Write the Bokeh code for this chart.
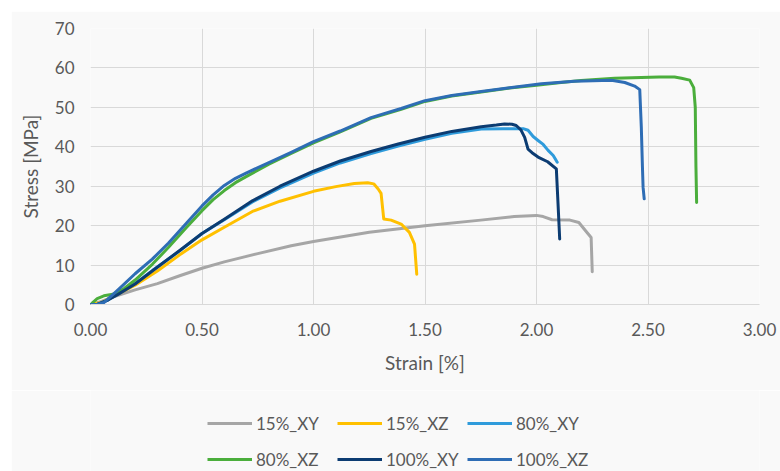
from bokeh.plotting import figure
from bokeh.models import Range1d, FixedTicker, NumeralTickFormatter, Legend, LegendItem
from bokeh.layouts import column
from bokeh.embed import file_html
from bokeh.resources import INLINE

series_names = ["15%_XY", "15%_XZ", "80%_XY", "80%_XZ", "100%_XY", "100%_XZ"]

x_15_xy = [0, 0.05, 0.1, 0.2, 0.3, 0.4, 0.5, 0.6, 0.75, 0.9, 1.0, 1.25, 1.5, 1.75, 1.9, 2.0,
           2.03, 2.07, 2.15, 2.19, 2.22, 2.245, 2.25]
y_15_xy = [0, 0.8, 1.9, 3.7, 5.3, 7.3, 9.2, 10.8, 12.9, 14.9, 16.0, 18.3, 20.0, 21.4, 22.3, 22.6,
           22.3, 21.5, 21.4, 20.8, 18.7, 17.0, 8.3]

x_15_xz = [0, 0.05, 0.1, 0.2, 0.3, 0.4, 0.5, 0.6, 0.726, 0.85, 1.0, 1.1, 1.183, 1.243, 1.27,
           1.29, 1.303, 1.315, 1.348, 1.393, 1.43, 1.453, 1.463]
y_15_xz = [0, 0.5, 2.0, 4.9, 8.5, 12.6, 16.4, 19.6, 23.6, 26.2, 28.7, 29.9, 30.7, 30.9, 30.6,
           29.3, 28.2, 21.7, 21.4, 20.4, 18.3, 15.3, 7.7]

x_80_xy = [0, 0.03, 0.08, 0.127, 0.2, 0.277, 0.4, 0.5, 0.6, 0.726, 0.85, 1.0, 1.12, 1.258, 1.38,
           1.5, 1.62, 1.752, 1.85, 1.94, 1.962, 1.985, 2.007, 2.03, 2.052, 2.075, 2.093]
y_80_xy = [0, 0, 1.2, 2.8, 5.3, 8.6, 13.6, 18.0, 21.5, 26.0, 29.6, 33.3, 35.9, 38.3, 40.2,
           41.9, 43.4, 44.5, 44.6, 44.6, 44.2, 42.6, 41.6, 40.6, 39.1, 37.8, 36.1]

x_80_xz = [0, 0.03, 0.06, 0.1, 0.15, 0.2, 0.277, 0.35, 0.43, 0.5, 0.55, 0.6, 0.65, 0.7, 0.8, 0.9,
           1.0, 1.12, 1.258, 1.393, 1.5, 1.62, 1.752, 1.88, 2.0, 2.11, 2.2, 2.35, 2.47, 2.55,
           2.619, 2.65, 2.687, 2.705, 2.712, 2.715, 2.718]
y_80_xz = [0, 1.5, 2.2, 2.6, 4.0, 6.2, 10.2, 14.5, 19.5, 23.8, 26.6, 28.9, 30.9, 32.5, 35.6,
           38.3, 41.0, 43.8, 47.2, 49.5, 51.5, 52.9, 53.9, 54.9, 55.6, 56.3, 56.8, 57.4, 57.6,
           57.7, 57.7, 57.4, 56.9, 55.0, 50.0, 35.0, 25.9]

x_100_xy = [0, 0.03, 0.08, 0.127, 0.2, 0.277, 0.4, 0.5, 0.6, 0.726, 0.85, 1.0, 1.12, 1.258, 1.38,
            1.5, 1.62, 1.752, 1.82, 1.857, 1.89, 1.909, 1.93, 1.947, 1.962, 1.98, 2.007, 2.05,
            2.089, 2.097, 2.104]
y_100_xy = [0, 0, 1.2, 2.7, 5.2, 8.5, 13.7, 18.0, 21.6, 26.3, 30.0, 33.8, 36.4, 38.8, 40.7,
            42.4, 43.9, 45.1, 45.5, 45.8, 45.7, 45.4, 44.3, 42.4, 39.4, 38.5, 37.4, 36.2,
            34.4, 25.0, 16.6]

x_100_xz = [0, 0.03, 0.06, 0.1, 0.127, 0.2, 0.277, 0.35, 0.43, 0.5, 0.55, 0.6, 0.65, 0.7, 0.8,
            0.9, 1.0, 1.12, 1.258, 1.393, 1.5, 1.62, 1.752, 1.88, 2.022, 2.17, 2.336, 2.396,
            2.44, 2.463, 2.47, 2.475, 2.478, 2.483]
y_100_xz = [0, 0, 0.5, 2.5, 3.9, 7.8, 11.5, 15.6, 20.6, 25.0, 27.8, 30.2, 32.0, 33.4, 36.0,
            38.6, 41.3, 44.0, 47.4, 49.7, 51.7, 53.0, 54.0, 55.0, 56.0, 56.6, 56.9, 56.3,
            55.4, 54.5, 45.0, 35.0, 29.7, 26.8]

x_ticks = [0, 0.5, 1.0, 1.5, 2.0, 2.5, 3.0]
y_ticks = [0, 10, 20, 30, 40, 50, 60, 70]

xs = [x_15_xy, x_15_xz, x_80_xy, x_80_xz, x_100_xy, x_100_xz]
ys = [y_15_xy, y_15_xz, y_80_xy, y_80_xz, y_100_xy, y_100_xz]
colors = ["#A6A6A6", "#FFC000", "#2F9BDB", "#4BAE3C", "#0C3C72", "#2E6DB5"]

BG = "#F9F9F9"
TXT = "#595959"
FONT = "Lato"

# main chart: placed at (11, 11) on the page, plot area at (90, 28)-(759, 304)
p = figure(width=769, height=379, output_backend="svg", toolbar_location=None,
           x_range=Range1d(0, 3), y_range=Range1d(0, 70),
           min_border_left=79, min_border_right=21, min_border_top=17, min_border_bottom=86)
p.margin = (11, 0, 0, 11)
p.background_fill_color = BG
p.border_fill_color = BG
p.outline_line_color = None

for xv, yv, c in zip(xs, ys, colors):
    p.line(xv, yv, line_color=c, line_width=3, line_join="round", line_cap="round")

p.xaxis.ticker = FixedTicker(ticks=x_ticks)
p.yaxis.ticker = FixedTicker(ticks=y_ticks)
p.xaxis.formatter = NumeralTickFormatter(format="0.00")
p.yaxis.formatter = NumeralTickFormatter(format="0")

for ax in (p.xaxis[0], p.yaxis[0]):
    ax.major_tick_out = 0
    ax.major_tick_in = 0
    ax.minor_tick_out = 0
    ax.minor_tick_in = 0
    ax.major_label_text_font = FONT
    ax.major_label_text_font_size = "17px"
    ax.major_label_text_color = TXT
    ax.axis_label_text_font = FONT
    ax.axis_label_text_font_size = "19px"
    ax.axis_label_text_font_style = "normal"
    ax.axis_label_text_color = TXT

p.xaxis.axis_label = "Strain [%]"
p.yaxis.axis_label = "Stress [MPa]"
p.xaxis.axis_line_color = "#D9D9D9"
p.yaxis.axis_line_color = None
p.xaxis.major_label_standoff = 18
p.yaxis.major_label_standoff = 16
p.xaxis.axis_label_standoff = 12
p.yaxis.axis_label_standoff = 10

p.xgrid.grid_line_color = "#D9D9D9"
p.ygrid.grid_line_color = "#D9D9D9"
p.xgrid.grid_line_width = 1
p.ygrid.grid_line_width = 1

# legend strip below the chart (its frame is aligned with the chart's plot area)
q = figure(width=769, height=81, output_backend="svg", toolbar_location=None,
           x_axis_type=None, y_axis_type=None,
           x_range=Range1d(10, 11), y_range=Range1d(100, 101),
           min_border_left=0, min_border_right=0, min_border_top=0, min_border_bottom=0)
q.margin = (0, 0, 0, 11)
q.background_fill_color = BG
q.border_fill_color = BG
q.outline_line_color = None

legend_renderers = [q.line(xv, yv, line_color=c, line_width=3)
                    for xv, yv, c in zip(xs, ys, colors)]
items = [LegendItem(label=n, renderers=[r]) for n, r in zip(series_names, legend_renderers)]
legend = Legend(items=items, location=(117, -6), orientation="horizontal", ncols=3,
                glyph_width=45, glyph_height=36, label_height=36, label_width=81,
                label_standoff=4, spacing=0, padding=0, margin=0,
                border_line_color=None, background_fill_alpha=0,
                label_text_font=FONT, label_text_font_size="17px", label_text_color=TXT)
q.add_layout(legend)

layout = column(p, q, spacing=0)
open("out.html", "w").write(file_html(layout, INLINE))
